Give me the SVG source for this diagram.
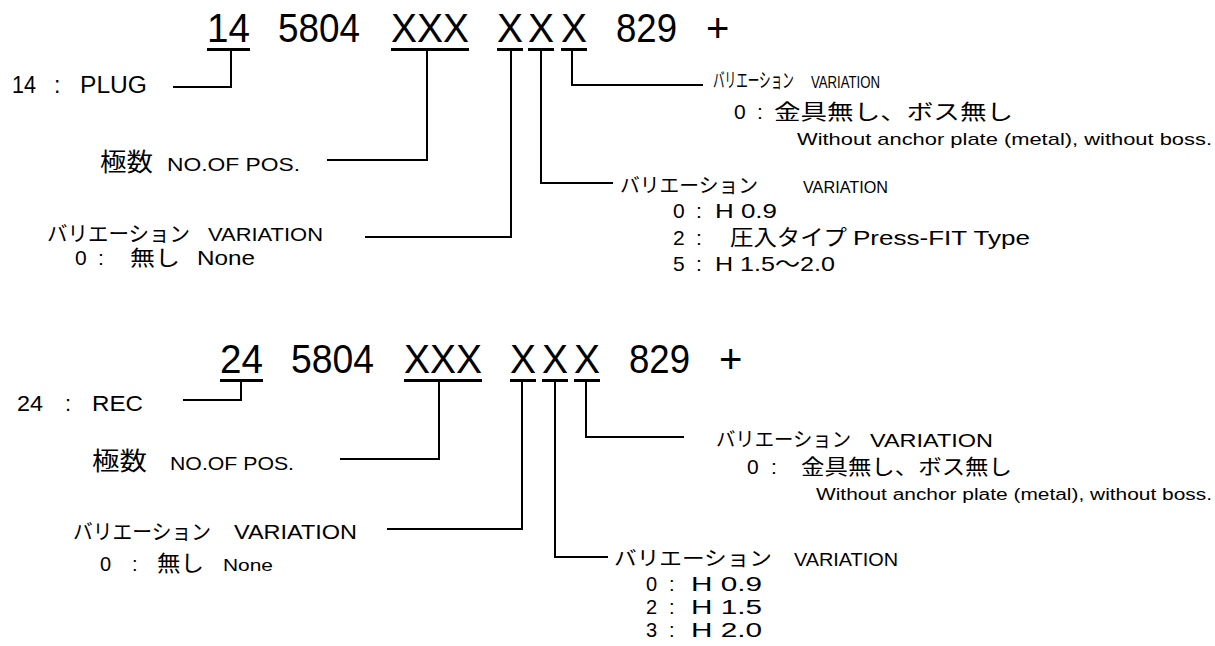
<svg xmlns="http://www.w3.org/2000/svg" width="1215" height="646" viewBox="0 0 1215 646">
<style>
text{font-family:"Liberation Sans","Noto Sans CJK JP",sans-serif;fill:#000}
.h{font-size:40px}
.ln{stroke:#000;stroke-width:2;fill:none}
.ul{stroke:#000;stroke-width:3}
</style>
<rect width="1215" height="646" fill="#fff"/>
<g id="header-plug">
<text class="h" y="42"><tspan x="207" textLength="43" lengthAdjust="spacingAndGlyphs">14</tspan> <tspan x="278" textLength="82" lengthAdjust="spacingAndGlyphs">5804</tspan> <tspan x="391" textLength="78" lengthAdjust="spacingAndGlyphs">XXX</tspan> <tspan x="497" textLength="26" lengthAdjust="spacingAndGlyphs">X</tspan><tspan x="528" textLength="26" lengthAdjust="spacingAndGlyphs">X</tspan><tspan x="561" textLength="26" lengthAdjust="spacingAndGlyphs">X</tspan> <tspan x="616" textLength="61" lengthAdjust="spacingAndGlyphs">829</tspan> <tspan x="706">+</tspan></text>
<path class="ul" d="M207 49.5H250M391 49.5H469M497 49.5H523M528 49.5H554M561 49.5H587"/>
</g>
<g id="header-rec">
<text class="h" y="373"><tspan x="220" textLength="43" lengthAdjust="spacingAndGlyphs">24</tspan> <tspan x="291" textLength="83" lengthAdjust="spacingAndGlyphs">5804</tspan> <tspan x="404" textLength="78" lengthAdjust="spacingAndGlyphs">XXX</tspan> <tspan x="510" textLength="26" lengthAdjust="spacingAndGlyphs">X</tspan><tspan x="542" textLength="26" lengthAdjust="spacingAndGlyphs">X</tspan><tspan x="574" textLength="26" lengthAdjust="spacingAndGlyphs">X</tspan> <tspan x="629" textLength="61" lengthAdjust="spacingAndGlyphs">829</tspan> <tspan x="719">+</tspan></text>
<path class="ul" d="M220 380.5H263M404 380.5H482M510 380.5H536M542 380.5H568M574 380.5H600"/>
</g>
<g id="connectors">
<path class="ln" d="M231 49V87H173"/>
<path class="ln" d="M427 49V160H327"/>
<path class="ln" d="M511 49V237H365"/>
<path class="ln" d="M541 49V183H613"/>
<path class="ln" d="M572 49V85H703"/>
<path class="ln" d="M241 380V400H183"/>
<path class="ln" d="M439 380V459H340"/>
<path class="ln" d="M522 380V529H387"/>
<path class="ln" d="M555 380V557H608"/>
<path class="ln" d="M586 380V437H684"/>
</g>
<g id="label-plug">
<text y="93" font-size="23"><tspan x="12" textLength="24" lengthAdjust="spacingAndGlyphs">14</tspan> <tspan x="54">:</tspan> <tspan x="80" textLength="67" lengthAdjust="spacingAndGlyphs">PLUG</tspan></text>
</g>
<g id="label-pos-top">
<text y="171"><tspan x="100" font-size="25" textLength="53" lengthAdjust="spacingAndGlyphs">極数</tspan> <tspan x="167" font-size="19" textLength="133" lengthAdjust="spacingAndGlyphs">NO.OF POS.</tspan></text>
</g>
<g id="label-var1-top">
<text y="241"><tspan x="47" font-size="21" textLength="143" lengthAdjust="spacingAndGlyphs">バリエーション</tspan> <tspan x="208" font-size="19" textLength="115" lengthAdjust="spacingAndGlyphs">VARIATION</tspan></text>
<text y="265" font-size="21"><tspan x="75">0</tspan> <tspan x="98">:</tspan> <tspan x="130" textLength="50" lengthAdjust="spacingAndGlyphs">無し</tspan> <tspan x="197" textLength="58" lengthAdjust="spacingAndGlyphs">None</tspan></text>
</g>
<g id="label-var3-top">
<text transform="translate(713 88) scale(0.58 1)" font-size="20">バリエーション</text>
<text x="811" y="88" font-size="16" textLength="69" lengthAdjust="spacingAndGlyphs">VARIATION</text>
<text y="119" font-size="21"><tspan x="734">0</tspan> <tspan x="757">:</tspan> <tspan x="774" textLength="239" lengthAdjust="spacingAndGlyphs">金具無し、ボス無し</tspan></text>
<text x="797" y="145" font-size="17" textLength="415" lengthAdjust="spacingAndGlyphs">Without anchor plate (metal), without boss.</text>
</g>
<g id="label-var2-top">
<text y="193"><tspan x="620" font-size="20" textLength="138" lengthAdjust="spacingAndGlyphs">バリエーション</tspan> <tspan x="803" font-size="17" textLength="85" lengthAdjust="spacingAndGlyphs">VARIATION</tspan></text>
<text y="218" font-size="21"><tspan x="673">0</tspan> <tspan x="696">:</tspan> <tspan x="715" textLength="62" lengthAdjust="spacingAndGlyphs">H 0.9</tspan></text>
<text y="245" font-size="21"><tspan x="673">2</tspan> <tspan x="696">:</tspan> <tspan x="730" font-size="22" textLength="117" lengthAdjust="spacingAndGlyphs">圧入タイプ</tspan> <tspan x="853" textLength="177" lengthAdjust="spacingAndGlyphs">Press-FIT Type</tspan></text>
<text y="271" font-size="21"><tspan x="673">5</tspan> <tspan x="696">:</tspan> <tspan x="715" textLength="120" lengthAdjust="spacingAndGlyphs">H 1.5〜2.0</tspan></text>
</g>
<g id="label-rec">
<text y="411" font-size="22"><tspan x="17" textLength="26" lengthAdjust="spacingAndGlyphs">24</tspan> <tspan x="65">:</tspan> <tspan x="92" textLength="51" lengthAdjust="spacingAndGlyphs">REC</tspan></text>
</g>
<g id="label-pos-bot">
<text y="470"><tspan x="92" font-size="25" textLength="55" lengthAdjust="spacingAndGlyphs">極数</tspan> <tspan x="170" font-size="18" textLength="124" lengthAdjust="spacingAndGlyphs">NO.OF POS.</tspan></text>
</g>
<g id="label-var1-bot">
<text y="539"><tspan x="73" font-size="21" textLength="138" lengthAdjust="spacingAndGlyphs">バリエーション</tspan> <tspan x="234" font-size="20" textLength="123" lengthAdjust="spacingAndGlyphs">VARIATION</tspan></text>
<text y="571" font-size="20"><tspan x="100">0</tspan> <tspan x="132">:</tspan> <tspan x="157" font-size="22" textLength="47" lengthAdjust="spacingAndGlyphs">無し</tspan> <tspan x="223" font-size="17" textLength="50" lengthAdjust="spacingAndGlyphs">None</tspan></text>
</g>
<g id="label-var3-bot">
<text y="447"><tspan x="716" font-size="20" textLength="135" lengthAdjust="spacingAndGlyphs">バリエーション</tspan> <tspan x="870" font-size="18" textLength="123" lengthAdjust="spacingAndGlyphs">VARIATION</tspan></text>
<text y="474" font-size="21"><tspan x="747">0</tspan> <tspan x="771">:</tspan> <tspan x="801" textLength="211" lengthAdjust="spacingAndGlyphs">金具無し、ボス無し</tspan></text>
<text x="816" y="500" font-size="16" textLength="396" lengthAdjust="spacingAndGlyphs">Without anchor plate (metal), without boss.</text>
</g>
<g id="label-var2-bot">
<text y="566"><tspan x="614" font-size="20" textLength="158" lengthAdjust="spacingAndGlyphs">バリエーション</tspan> <tspan x="794" font-size="18" textLength="104" lengthAdjust="spacingAndGlyphs">VARIATION</tspan></text>
<text y="591" font-size="20"><tspan x="646">0</tspan> <tspan x="669">:</tspan> <tspan x="691" textLength="71" lengthAdjust="spacingAndGlyphs">H 0.9</tspan></text>
<text y="614" font-size="20"><tspan x="646">2</tspan> <tspan x="669">:</tspan> <tspan x="691" textLength="71" lengthAdjust="spacingAndGlyphs">H 1.5</tspan></text>
<text y="637" font-size="20"><tspan x="646">3</tspan> <tspan x="669">:</tspan> <tspan x="691" textLength="71" lengthAdjust="spacingAndGlyphs">H 2.0</tspan></text>
</g>
</svg>
